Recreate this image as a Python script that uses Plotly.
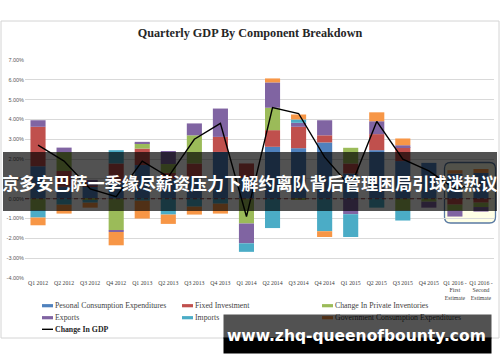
import plotly.graph_objects as go

quarters = ["Q1 2012", "Q2 2012", "Q3 2012", "Q4 2012", "Q1 2013", "Q2 2013", "Q3 2013",
            "Q4 2013", "Q1 2014", "Q2 2014", "Q3 2014", "Q4 2014", "Q1 2015", "Q2 2015",
            "Q3 2015", "Q4 2015", "Q1 2016 - First Estimate", "Q1 2016 - Second Estimate"]
tick_labels = ["Q1 2012", "Q2 2012", "Q3 2012", "Q4 2012", "Q1 2013", "Q2 2013", "Q3 2013",
               "Q4 2013", "Q1 2014", "Q2 2014", "Q3 2014", "Q4 2014", "Q1 2015", "Q2 2015",
               "Q3 2015", "Q4 2015", "Q1 2016 -<br>First<br>Estimate", "Q1 2016 -<br>Second<br>Estimate"]

pce     = [1.64, 0.60, 0.60, 0.85, 1.70, 1.00, 1.10, 2.36, 1.05, 2.62, 2.55, 2.84, 1.27, 2.45, 1.90, 1.81, 1.27, 1.30]
fixed   = [1.99, 0.80, 0.05, 0.93, 0.83, 0.30, 0.68, 0.76, 0.73, 0.84, 1.08, 0.36, 0.51, 0.81, 0.70, 0.00, -0.30, -0.20]
invent  = [-0.58, 0.95, -0.10, -1.59, 0.26, 0.45, 1.42, 0.00, -1.25, 1.13, -0.05, 0.00, 0.79, 0.00, -0.60, -0.15, -0.30, -0.22]
exports = [0.33, 0.23, 0.30, -0.09, 0.08, 0.66, 0.60, 1.43, -1.00, 1.28, 0.20, 0.76, -0.78, 0.65, 0.10, -0.30, -0.30, -0.23]
imports = [-0.37, -0.30, -0.10, 0.67, -0.10, -0.80, -0.40, -0.25, -0.43, -1.48, 0.17, -1.64, -1.15, -0.45, -0.50, 0.00, 0.00, 0.00]
govt    = [-0.39, -0.45, -0.25, -0.67, -0.90, -0.47, -0.40, -0.50, 0.00, 0.20, 0.25, -0.29, 0.00, 0.45, 0.34, 0.00, 0.17, 0.20]
gdp     = [2.7, 1.9, 0.5, 0.1, 1.9, 1.1, 3.0, 3.8, -0.9, 4.6, 4.3, 2.1, 0.6, 3.9, 2.0, 1.4, 0.5, 0.8]

y_ticks = [7, 6, 5, 4, 3, 2, 1, 0, -1, -2, -3, -4]
y_tick_labels = ["7.00%", "6.00%", "5.00%", "4.00%", "3.00%", "2.00%", "1.00%", "0.00%",
                 "-1.00%", "-2.00%", "-3.00%", "-4.00%"]

series_names = ["Pesonal Consumption Expenditures", "Fixed Investment", "Change In Private Inventories",
                "Exports", "Imports", "Government Consumption Expenditures"]
series_values = [pce, fixed, invent, exports, imports, govt]
series_colors = ["#4F81BD", "#C0504D", "#9BBB59", "#8064A2", "#4BACC6", "#F79646"]
line_name = "Change In GDP"

title_text = "Quarterly GDP By Component Breakdown"
banner_text = "京多安巴萨一季缘尽薪资压力下解约离队背后管理困局引球迷热议"
watermark_text = "www.zhq-queenofbounty.com"

W, H = 500, 362
L, R, T, B = 25, 6, 60, 84
PW = W - L - R
PH = H - T - B


def fx(px):
    return (px - L) / PW


def fy(py):
    return (H - B - py) / PH


fig = go.Figure()
for name, vals, col in zip(series_names, series_values, series_colors):
    fig.add_bar(x=quarters, y=vals, name=name, marker_color=col,
                marker_line_width=0, width=0.58)
fig.add_scatter(x=quarters, y=gdp, mode="lines", name=line_name,
                line=dict(color="black", width=1.4))

shapes = []
# chart frame
shapes.append(dict(type="rect", xref="paper", yref="paper", x0=fx(1), x1=fx(499),
                   y0=fy(338), y1=fy(21), line=dict(color="#D4D4D4", width=1),
                   fillcolor="rgba(0,0,0,0)", layer="below"))
# highlight box around the estimates
x0, x1, y0, y1, r = 444.5, 495.5, 162.5, 223, 6
path = (f"M {fx(x0 + r)},{fy(y0)} L {fx(x1 - r)},{fy(y0)} Q {fx(x1)},{fy(y0)} {fx(x1)},{fy(y0 + r)} "
        f"L {fx(x1)},{fy(y1 - r)} Q {fx(x1)},{fy(y1)} {fx(x1 - r)},{fy(y1)} "
        f"L {fx(x0 + r)},{fy(y1)} Q {fx(x0)},{fy(y1)} {fx(x0)},{fy(y1 - r)} "
        f"L {fx(x0)},{fy(y0 + r)} Q {fx(x0)},{fy(y0)} {fx(x0 + r)},{fy(y0)} Z")
shapes.append(dict(type="path", xref="paper", yref="paper", path=path,
                   fillcolor="#FFFFE6", line=dict(color="#5A7AA3", width=1.3), layer="between"))
# dashed zero line
shapes.append(dict(type="line", xref="paper", yref="y", x0=0, x1=1, y0=0, y1=0,
                   line=dict(color="#8E3B3B", width=1.1, dash="4px,3px"), layer="above"))

annotations = []
# manual legend
leg_cols = [42, 182, 322]
leg_rows = [305.7, 317.7, 329.3]
for i, (name, col) in enumerate(zip(series_names, series_colors)):
    cx = leg_cols[i % 3]
    cy = leg_rows[i // 3]
    shapes.append(dict(type="rect", xref="paper", yref="paper", x0=fx(cx), x1=fx(cx + 11),
                       y0=fy(cy + 1.6), y1=fy(cy - 1.6), fillcolor=col, line=dict(width=0),
                       layer="above"))
    annotations.append(dict(x=fx(cx + 11.3), y=fy(cy), xref="paper", yref="paper",
                            text=name, showarrow=False, xanchor="left", yanchor="middle",
                            font=dict(family="Liberation Serif", size=7.8, color="#3F3F3F")))
shapes.append(dict(type="line", xref="paper", yref="paper", x0=fx(42), x1=fx(53),
                   y0=fy(leg_rows[2]), y1=fy(leg_rows[2]), line=dict(color="black", width=1.4),
                   layer="above"))
annotations.append(dict(x=fx(53.3), y=fy(leg_rows[2]), xref="paper", yref="paper",
                        text="<b>" + line_name + "</b>", showarrow=False, xanchor="left",
                        yanchor="middle",
                        font=dict(family="Liberation Serif", size=7.8, color="#262626")))

# banner overlay
shapes.append(dict(type="rect", xref="paper", yref="paper", x0=fx(3), x1=fx(497),
                   y0=fy(211), y1=fy(152), fillcolor="rgba(0,0,0,0.68)", line=dict(width=0),
                   layer="above"))
annotations.append(dict(x=fx(250), y=fy(182), xref="paper", yref="paper",
                        text="<b>" + banner_text + "</b>", showarrow=False,
                        xanchor="center", yanchor="middle",
                        font=dict(family="Noto Sans CJK SC", size=17.1, color="white")))
# watermark box
annotations.append(dict(x=fx(357.5), y=fy(326.5), xref="paper", yref="paper",
                        text=".", showarrow=False, width=267, height=23,
                        bgcolor="rgba(0,0,0,0.68)", borderpad=0,
                        xanchor="center", yanchor="middle",
                        font=dict(size=6, color="rgba(0,0,0,0)")))
annotations.append(dict(x=fx(357.5), y=fy(345.5), xref="paper", yref="paper",
                        text=".", showarrow=False, width=267, height=15,
                        bgcolor="black", borderpad=0,
                        xanchor="center", yanchor="middle",
                        font=dict(size=6, color="rgba(0,0,0,0)")))
annotations.append(dict(x=fx(356), y=fy(336), xref="paper", yref="paper",
                        text="<b>" + watermark_text + "</b>", showarrow=False,
                        xanchor="center", yanchor="middle",
                        font=dict(family="DejaVu Sans", size=15.5, color="white")))

fig.update_layout(
    width=W, height=H,
    margin=dict(l=L, r=R, t=T, b=B),
    barmode="relative",
    showlegend=False,
    paper_bgcolor="white",
    plot_bgcolor="white",
    title=dict(text="<b>" + title_text + "</b>", x=0.5, xref="container", xanchor="center",
               y=1 - 33 / H, yref="container", yanchor="middle",
               font=dict(family="Liberation Serif", size=12.2, color="#262626")),
    xaxis=dict(type="category", categoryorder="array", categoryarray=quarters,
               tickvals=quarters, ticktext=tick_labels, showgrid=False, zeroline=False,
               showline=False, ticks="", automargin=False,
               tickfont=dict(family="Liberation Serif", size=5.8, color="#404040")),
    yaxis=dict(range=[-4, 7], tickvals=y_ticks, ticktext=y_tick_labels, showgrid=True,
               gridcolor="#D9D9D9", gridwidth=1, zeroline=False, showline=False, ticks="",
               automargin=False,
               tickfont=dict(family="Liberation Sans", size=5.5, color="#595959")),
    shapes=shapes,
    annotations=annotations,
)

fig.write_html("out.html",
               config={"displayModeBar": False},
               post_script="document.body.style.margin='0';document.body.style.padding='0';")
